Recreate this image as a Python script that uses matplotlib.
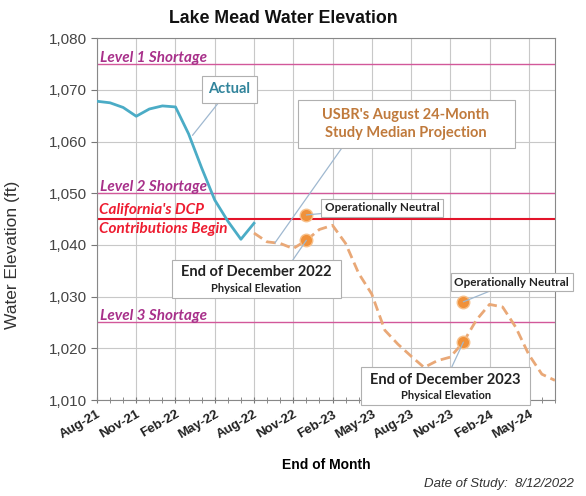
import numpy as np
import matplotlib.pyplot as plt
from matplotlib.patches import Rectangle

# month index 0 = Aug-21
tick_labels = ["Aug-21", "Nov-21", "Feb-22", "May-22", "Aug-22", "Nov-22",
               "Feb-23", "May-23", "Aug-23", "Nov-23", "Feb-24", "May-24"]

# actual end-of-month elevations, Aug-21 .. Aug-22
actual_months = np.arange(0, 13)
actual_elev = [1067.8, 1067.5, 1066.6, 1064.9, 1066.3, 1066.9, 1066.7,
               1061.5, 1054.9, 1048.7, 1044.6, 1041.1, 1044.2]

# USBR August 24-month study median projection, Aug-22 .. Jul-24
proj_months = np.arange(12, 36)
proj_elev = [1042.3, 1040.6, 1040.3, 1039.3, 1040.9, 1043.0, 1043.8, 1040.3,
             1034.5, 1030.5, 1023.5, 1020.8, 1018.5, 1016.3, 1017.6, 1018.3,
             1021.2, 1025.5, 1028.5, 1028.0, 1024.1, 1018.8, 1015.0, 1013.8]

# end of December points (physical, operationally neutral)
dec_months = [16, 28]
dec_physical = [1040.9, 1021.2]
dec_neutral = [1045.8, 1029.0]

shortage_levels = [1075, 1050, 1025]
shortage_names = ["Level 1 Shortage", "Level 2 Shortage", "Level 3 Shortage"]
dcp_level = 1045

plt.rcParams['font.family'] = ['Liberation Sans', 'DejaVu Sans']
callout_font = 'Lato'

fig = plt.figure(figsize=(5.86, 4.96), dpi=100)
ax = fig.add_axes([0.1655, 0.1935, 0.7815, 0.7295])

ax.set_xlim(0, 35)
ax.set_ylim(1010, 1080)
ax.set_xticks(np.arange(0, 34, 3))
ax.set_xticks(np.arange(0, 36, 1), minor=True)
ax.set_xticklabels(tick_labels, rotation=30, ha="right", rotation_mode="anchor",
                   fontweight="bold", fontsize=9.5, color="#222222")
ax.set_yticks(np.arange(1010, 1081, 10))
ax.set_yticklabels(["{:,}".format(v) for v in range(1010, 1081, 10)],
                   fontsize=11, color="#444444")
ax.tick_params(axis="x", which="both", direction="inout", length=5, color="#777777")
ax.tick_params(axis="y", direction="out", length=4, color="#777777")
ax.grid(True, which="major", color="#c8c8c8", lw=0.8)
ax.set_axisbelow(True)
for s in ax.spines.values():
    s.set_color("#888888")
    s.set_linewidth(0.8)

for lev, name in zip(shortage_levels, shortage_names):
    ax.axhline(lev, color="#d2589a", lw=1.0, zorder=2)
    ax.text(0.25, lev + 1.2, name, color="#a8308a", fontsize=11,
            fontweight="bold", style="italic", va="center", family=callout_font)
ax.axhline(dcp_level, color="#e3142a", lw=1.5, zorder=2)
ax.text(0.15, dcp_level + 1.7, "California's DCP", color="#ee1c30", fontsize=11,
        fontweight="bold", style="italic", va="center", family=callout_font)
ax.text(0.15, dcp_level - 1.9, "Contributions Begin", color="#ee1c30", fontsize=11,
        fontweight="bold", style="italic", va="center", family=callout_font)

ax.plot(actual_months, actual_elev, color="#4bacc6", lw=2.0, zorder=4)
ax.plot(proj_months, proj_elev, color="#e9a877", lw=2.0, ls=(0, (3.5, 1.8)), zorder=4)
ax.plot(dec_months, dec_physical, "o", ms=9, color="#f0913a", mec="#f7c08a",
        mew=1.0, zorder=5)
ax.plot(dec_months, dec_neutral, "o", ms=9, color="#f0913a", mec="#f7c08a",
        mew=1.0, zorder=5)

edge = "#b0b0b0"
lead = dict(arrowstyle="-", color="#9fb8d0", lw=0.9, shrinkA=0, shrinkB=0)

# Actual callout
ax.annotate("Actual", xy=(7.3, 1061.2), xytext=(10.1, 1070.1), ha="center", va="center",
            fontsize=10.5, fontweight="bold", color="#31849b", family=callout_font,
            bbox=dict(boxstyle="square,pad=0.45", fc="white", ec=edge, lw=0.8),
            arrowprops=lead, zorder=6)

# USBR projection callout
ax.annotate("", xy=(13.6, 1040.4), xytext=(18.7, 1058.7), arrowprops=lead, zorder=5)
ax.add_patch(Rectangle((15.35, 1058.7), 16.6, 9.3, fc="white", ec=edge, lw=0.8, zorder=6))
ax.text(23.6, 1063.4, "USBR's August 24-Month\nStudy Median Projection", ha="center",
        va="center", fontsize=10.5, fontweight="bold", color="#c07a3c",
        family=callout_font, linespacing=1.45, zorder=7)

# operationally neutral callouts
for xm, yv, xt, yt in [(dec_months[0], dec_neutral[0], 21.8, 1047.2),
                       (dec_months[1], dec_neutral[1], 31.7, 1032.8)]:
    ax.annotate("Operationally Neutral", xy=(xm, yv), xytext=(xt, yt), ha="center",
                va="center", fontsize=8.5, fontweight="bold", color="#222222",
                family=callout_font,
                bbox=dict(boxstyle="square,pad=0.3", fc="white", ec=edge, lw=0.8),
                arrowprops=lead, zorder=6)

# end of December physical elevation callouts
for xm, yv, lx, ly, bx, by, yr in [
        (dec_months[0], dec_physical[0], 14.97, 1037.1, 5.73, 1029.8, "2022"),
        (dec_months[1], dec_physical[1], 27.12, 1016.4, 20.2, 1009.0, "2023")]:
    ax.annotate("", xy=(xm, yv), xytext=(lx, ly), arrowprops=lead, zorder=5)
    ax.add_patch(Rectangle((bx, by), 12.9, 7.3, fc="white", ec=edge, lw=0.8,
                           zorder=6, clip_on=False))
    ax.text(bx + 6.45, by + 4.9, "End of December %s" % yr, ha="center", va="center",
            fontsize=10.5, fontweight="bold", color="#222222", family=callout_font,
            zorder=7)
    ax.text(bx + 6.45, by + 1.85, "Physical Elevation", ha="center", va="center",
            fontsize=8, fontweight="bold", color="#222222", family=callout_font,
            zorder=7)

fig.text(0.483, 0.963, "Lake Mead Water Elevation", ha="center", va="center",
         fontsize=12.8, fontweight="bold", color="#111111")
ax.set_ylabel("Water Elevation (ft)", fontsize=12.5, color="#333333")
ax.yaxis.set_label_coords(-0.168, 0.40)
ax.set_xlabel("End of Month", fontsize=10, fontweight="bold", labelpad=12)
fig.text(0.98, 0.025, "Date of Study:  8/12/2022", ha="right", va="center",
         fontsize=9.5, style="italic", color="#333333")

fig.savefig("out.png", dpi=100)
